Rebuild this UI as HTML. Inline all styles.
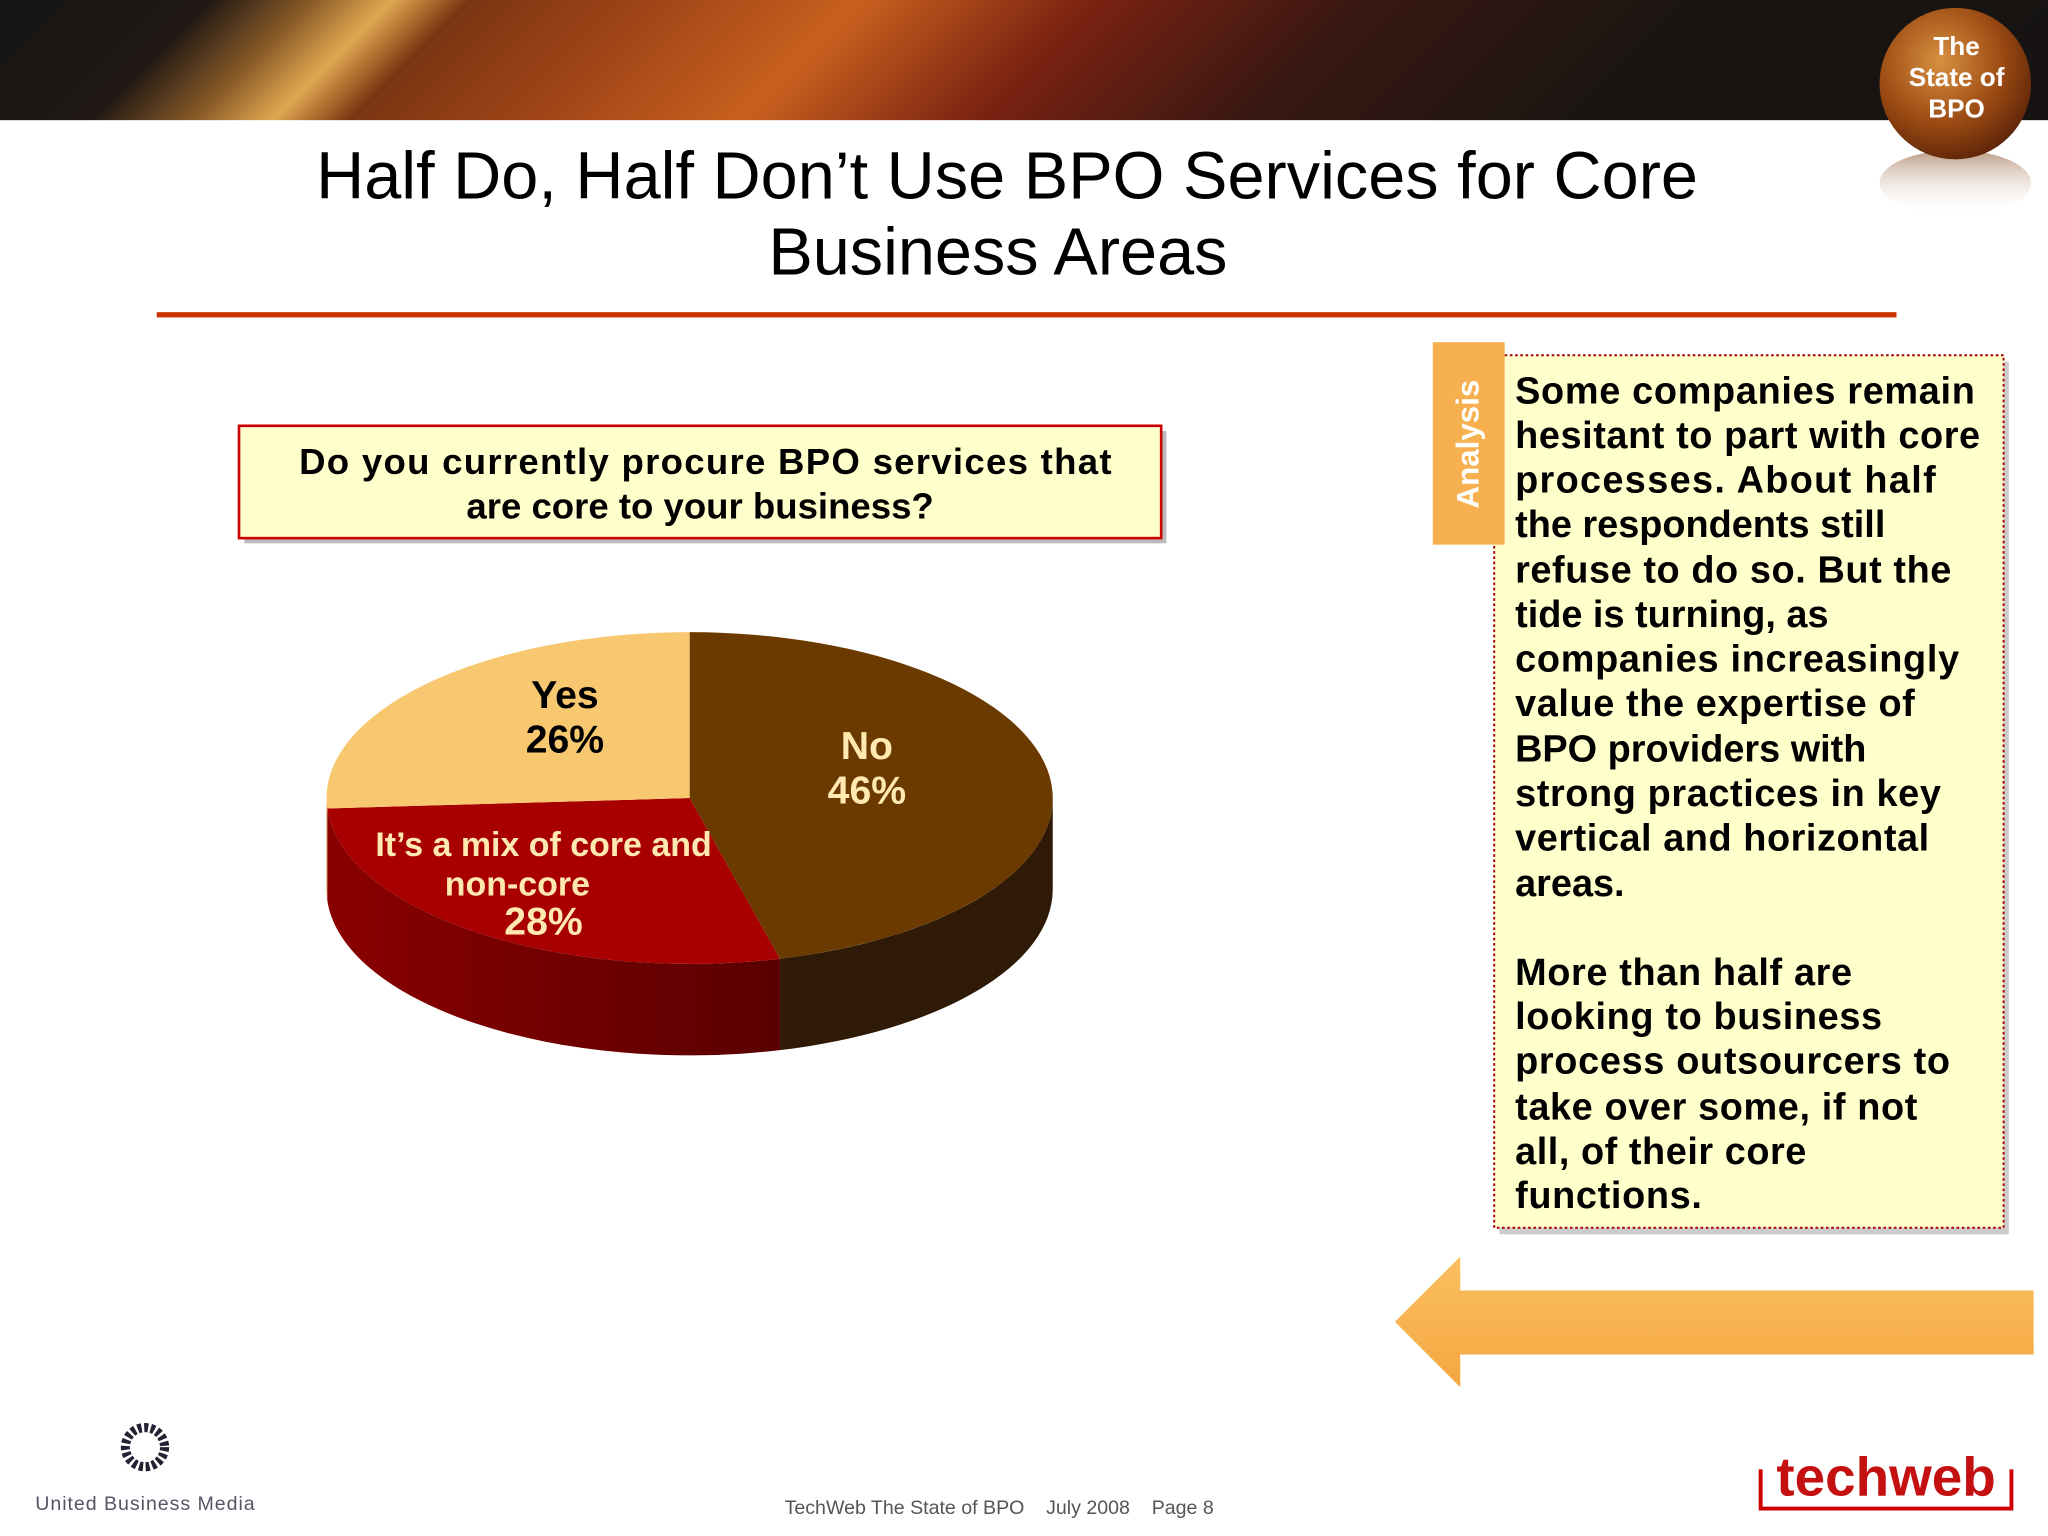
<!DOCTYPE html>
<html><head><meta charset="utf-8"><style>
html,body{margin:0;padding:0;background:#fff}
svg{display:block}
text{font-family:"Liberation Sans",Arial,sans-serif}
</style></head><body>
<svg width="2048" height="1536" viewBox="0 0 1568 1176" xmlns="http://www.w3.org/2000/svg">
<defs>
<linearGradient id="hdr" x1="0" y1="0" x2="1000" y2="1000" gradientUnits="userSpaceOnUse">
<stop offset="0" stop-color="#151515"/><stop offset="0.08" stop-color="#201814"/><stop offset="0.12" stop-color="#8a5a28"/><stop offset="0.15" stop-color="#e0a850"/><stop offset="0.18" stop-color="#7a3512"/><stop offset="0.25" stop-color="#a04418"/><stop offset="0.33" stop-color="#c8601e"/><stop offset="0.42" stop-color="#7a2212"/><stop offset="0.52" stop-color="#3a1812"/><stop offset="0.65" stop-color="#1a1512"/><stop offset="1" stop-color="#111"/>
</linearGradient>
<radialGradient id="badge" cx="0.4" cy="0.35" r="0.7"><stop offset="0" stop-color="#d89040"/><stop offset="0.6" stop-color="#9a4a12"/><stop offset="1" stop-color="#5a2208"/></radialGradient>
<linearGradient id="refl" x1="0" y1="0" x2="0" y2="1"><stop offset="0" stop-color="#a07050" stop-opacity="0.7"/><stop offset="1" stop-color="#fff" stop-opacity="0"/></linearGradient>
<linearGradient id="mixside" x1="0" y1="0" x2="1" y2="0"><stop offset="0" stop-color="#8a0000"/><stop offset="1" stop-color="#5a0000"/></linearGradient>
<linearGradient id="arrow" x1="0" y1="0" x2="0" y2="1"><stop offset="0" stop-color="#fbc060"/><stop offset="1" stop-color="#f4a640"/></linearGradient>
</defs>
<rect x="0" y="0" width="1568" height="92" fill="url(#hdr)"/>
<g>
<ellipse cx="1497" cy="140" rx="58" ry="25" fill="url(#refl)"/>
<circle cx="1497" cy="64" r="58" fill="url(#badge)"/>
<text x="1498" y="42" font-size="20" font-weight="bold" fill="#fff" text-anchor="middle">The</text>
<text x="1498" y="66" font-size="20" font-weight="bold" fill="#fff" text-anchor="middle">State of</text>
<text x="1498" y="90" font-size="20" font-weight="bold" fill="#fff" text-anchor="middle">BPO</text>
</g>
<text x="771" y="152" font-size="51" fill="#000" text-anchor="middle" textLength="1058">Half Do, Half Don’t Use BPO Services for Core</text>
<text x="764" y="210" font-size="51" fill="#000" text-anchor="middle">Business Areas</text>
<rect x="120" y="239" width="1332" height="4" fill="#cc3300"/>
<g>
<rect x="187" y="330" width="706" height="86" fill="#bbb"/>
<rect x="183" y="326" width="706" height="86" fill="#ffffcc" stroke="#c00" stroke-width="2"/>
<text x="540" y="363" font-size="28" font-weight="bold" text-anchor="middle" textLength="622">Do you currently procure BPO services that</text>
<text x="536" y="397" font-size="28" font-weight="bold" text-anchor="middle">are core to your business?</text>
</g>
<g id="pie"></g>
<g>
<rect x="1148" y="277" width="390" height="668" fill="#ccc"/>
<rect x="1144" y="272" width="390" height="668" fill="#ffffcc" stroke="#a00" stroke-width="1.5" stroke-dasharray="2,2"/>
<rect x="1097" y="262" width="55" height="155" fill="#f6b050"/>
<text transform="translate(1132,340) rotate(-90)" font-size="24" font-weight="bold" fill="#fff" text-anchor="middle">Analysis</text>
<g font-size="29" font-weight="bold" fill="#000">
<text x="1160" y="309" textLength="352">Some companies remain</text>
<text x="1160" y="343" textLength="356">hesitant to part with core</text>
<text x="1160" y="377" textLength="322">processes.  About half</text>
<text x="1160" y="411">the respondents still</text>
<text x="1160" y="446" textLength="334">refuse to do so. But the</text>
<text x="1160" y="480">tide is turning, as</text>
<text x="1160" y="514" textLength="340">companies increasingly</text>
<text x="1160" y="548" textLength="306">value the expertise of</text>
<text x="1160" y="583">BPO providers with</text>
<text x="1160" y="617" textLength="326">strong practices in key</text>
<text x="1160" y="651" textLength="317">vertical and horizontal</text>
<text x="1160" y="686">areas.</text>
<text x="1160" y="754" textLength="258">More than half are</text>
<text x="1160" y="788" textLength="281">looking to business</text>
<text x="1160" y="822" textLength="333">process outsourcers to</text>
<text x="1160" y="857" textLength="308">take over some, if not</text>
<text x="1160" y="891" textLength="223">all, of their core</text>
<text x="1160" y="925" textLength="143">functions.</text>
</g>
</g>
<path d="M1068,1012 L1118,962 L1118,988 L1557,988 L1557,1037 L1118,1037 L1118,1062 Z" fill="url(#arrow)"/>
<g>
<circle cx="111" cy="1108" r="15" fill="none" stroke="#223" stroke-width="7" stroke-dasharray="3,2"/>
<text x="111" y="1156" font-size="15" fill="#556" text-anchor="middle" textLength="168">United Business Media</text>
</g>
<text x="765" y="1159" font-size="15" fill="#555" text-anchor="middle" xml:space="preserve">TechWeb The State of BPO    July 2008    Page 8</text>
<g>
<path d="M1348,1125 L1348,1155 L1540,1155 L1540,1125" fill="none" stroke="#c00" stroke-width="3"/>
<text x="1444" y="1145" font-size="42" font-weight="bold" fill="#c41010" text-anchor="middle">techweb</text>
</g>
</svg>
<script>
const categories=['No','It’s a mix of core and non-core','Yes'];
const values=[46,28,26];
const topColors=['#6b3a00','#a80000','#f8c870'];
const sideColors=['#2e1a06','url(#mixside)','#c89850'];
const labelColors=['#ffe9b0','#ffe9b0','#000'];
const cx=528,cy=611,rx=278,ry=127,depth=70;
const NS='http://www.w3.org/2000/svg';
const g=document.getElementById('pie');
function pt(a,dy){return [cx+rx*Math.cos(a),cy+(dy||0)+ry*Math.sin(a)];}
const total=values.reduce((a,b)=>a+b,0);
let start=-Math.PI/2;const slices=[];
values.forEach((v,i)=>{const end=start+v/total*2*Math.PI;slices.push([start,end]);start=end;});
slices.forEach(([s,e],i)=>{
  for(let k=-1;k<=1;k++){
    const a1=Math.max(s,k*2*Math.PI),a2=Math.min(e,k*2*Math.PI+Math.PI);
    if(a2<=a1)continue;
    const p1=pt(a1),p2=pt(a2),p3=pt(a2,depth),p4=pt(a1,depth);
    const p=document.createElementNS(NS,'path');
    p.setAttribute('d',`M${p1} A${rx},${ry} 0 0 1 ${p2} L${p3} A${rx},${ry} 0 0 0 ${p4} Z`);
    p.setAttribute('fill',sideColors[i]);
    
    
    g.appendChild(p);
  }
});
slices.forEach(([s,e],i)=>{
  const p1=pt(s),p2=pt(e);const large=(e-s)>Math.PI?1:0;
  const p=document.createElementNS(NS,'path');
  p.setAttribute('d',`M${cx},${cy} L${p1} A${rx},${ry} 0 ${large} 1 ${p2} Z`);
  p.setAttribute('fill',topColors[i]);
  
  
  g.appendChild(p);
});
slices.forEach(([s,e],i)=>{
  const m=(s+e)/2;const lx=cx+rx*0.55*Math.cos(m),ly=cy+ry*0.55*Math.sin(m);
  const mix=categories[i].length>10;
  const lines=mix?['It’s a mix of core and','non-core',values[i]+'%']:[categories[i],values[i]+'%'];
  const fs=mix?[26,26,30]:[30,30];
  const step=mix?30:34;
  const x0=mix?lx-22:(i===0?lx-16:lx+16);
  let y=ly-((lines.length-1)*step)/2+(mix?18:(i===0?-4:-4));
  lines.forEach((t,j)=>{
    const tx=document.createElementNS(NS,'text');
    tx.setAttribute('x',mix&&j===1?x0-20:x0);
    tx.setAttribute('y',y+j*step);
    tx.setAttribute('font-size',fs[j]);tx.setAttribute('font-weight','bold');
    tx.setAttribute('fill',labelColors[i]);tx.setAttribute('text-anchor','middle');
    tx.textContent=t;
    
    
    g.appendChild(tx);
  });
});
</script>
</body></html>
